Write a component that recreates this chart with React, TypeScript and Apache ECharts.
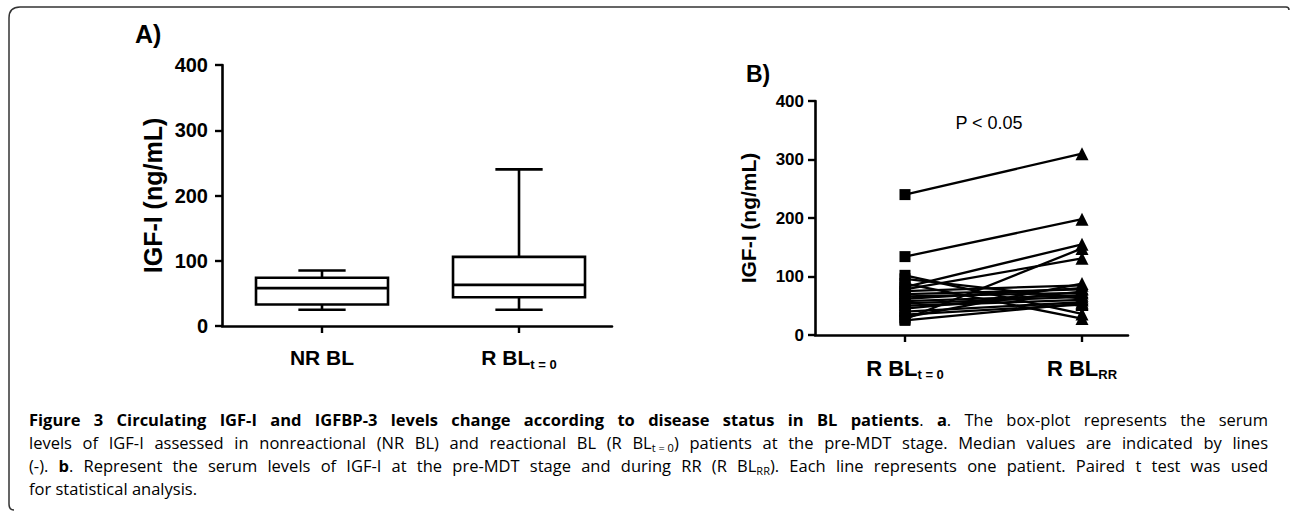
import React, { useEffect, useRef } from "react";
import * as echarts from "echarts";

// ---------- data ----------
const boxLabelMain = ["NR BL", "R BL"];
const boxLabelSub = ["", "t = 0"];
const boxMin = [25, 25];
const boxQ1 = [33, 44];
const boxMedian = [58, 63];
const boxQ3 = [74, 106];
const boxMax = [85, 240];

const pairLabelMain = ["R BL", "R BL"];
const pairLabelSub = ["t = 0", "RR"];
const pairBaseline = [240, 134, 102, 96, 88, 82, 78, 75, 70, 66, 62, 58, 54, 50, 45, 40, 35, 30, 27, 25];
const pairRR = [310, 198, 36, 62, 28, 155, 131, 85, 78, 72, 80, 68, 65, 60, 74, 56, 52, 88, 148, 54];

const yAxisTitle = "IGF-I (ng/mL)";
const panelA = "A)";
const panelB = "B)";
const pText = "P < 0.05";

// caption: *bold*, _subscript_ ; words separated by normal spaces
const captionLines = [
  "*Figure* *3* *Circulating* *IGF-I* *and* *IGFBP-3* *levels* *change* *according* *to* *disease* *status* *in* *BL* *patients*. *a*. The box-plot represents the serum",
  "levels of IGF-I assessed in nonreactional (NR BL) and reactional BL (R BL_t\u00a0=\u00a00_) patients at the pre-MDT stage. Median values are indicated by lines",
  "(-). *b*. Represent the serum levels of IGF-I at the pre-MDT stage and during RR (R BL_RR_). Each line represents one patient. Paired t test was used",
  "for statistical analysis.",
];

// ---------- style constants ----------
const FONT = "'Liberation Sans', Arial, sans-serif";
const CAP_FAMILY = "Open Sans";
const CAP_SIZE = 16.5;
const CAP_SUB = 11;
const CAP_LEFT = 29;
const CAP_RIGHT = 1268;
const CAP_CENTERS = [420, 443, 466, 489];

echarts.graphic.registerShape(
  "figFrame",
  echarts.graphic.extendPath(
    "M 14 510 Q 9 510 9 504 L 9 18 Q 9 7 20 7 L 1286 7 Q 1289 7 1289 10",
    {}
  )
);

type Part = { s: string; t: string };
function parseWord(w: string): Part[] {
  const parts: Part[] = [];
  const re = /\*([^*]+)\*|_([^_]+)_|([^*_]+)/g;
  let m: RegExpExecArray | null;
  while ((m = re.exec(w))) {
    if (m[1]) parts.push({ s: "b", t: m[1] });
    else if (m[2]) parts.push({ s: "s", t: m[2] });
    else parts.push({ s: "r", t: m[3] });
  }
  return parts;
}

function buildCaption() {
  const canvas = document.createElement("canvas");
  const ctx = canvas.getContext("2d")!;
  const meas = (t: string, s: string) => {
    const size = s === "s" ? CAP_SUB : CAP_SIZE;
    ctx.font = `${s === "b" ? "bold " : ""}${size}px "${CAP_FAMILY}"`;
    return ctx.measureText(t).width;
  };
  const base = { fontFamily: CAP_FAMILY, lineHeight: 19, verticalAlign: "top" as const, padding: [0, 0, 2, 0] };
  const rich: any = {
    r: { ...base, fontSize: CAP_SIZE, color: "#3d3d3d" },
    b: { ...base, fontSize: CAP_SIZE, fontWeight: "bold", color: "#1a1a1a" },
    s: { fontFamily: CAP_FAMILY, fontSize: CAP_SUB, lineHeight: 11, verticalAlign: "bottom", color: "#3d3d3d" },
  };
  const elements: any[] = [];
  captionLines.forEach((line, li) => {
    const words = line.split(" ").map(parseWord);
    const widths = words.map((ps) => ps.reduce((a, p) => a + meas(p.t, p.s), 0));
    const total = widths.reduce((a, b) => a + b, 0);
    const last = li === captionLines.length - 1;
    let gap = meas(" ", "r");
    if (!last && words.length > 1) gap = Math.max(2, (CAP_RIGHT - CAP_LEFT - total) / (words.length - 1));
    const gName = "g" + li;
    rich[gName] = { ...base, fontSize: CAP_SIZE, width: gap };
    const text = words
      .map((ps) => ps.map((p) => `{${p.s}|${p.t}}`).join(""))
      .join(`{${gName}| }`);
    elements.push({
      type: "text",
      x: CAP_LEFT,
      y: CAP_CENTERS[li] - 9.5,
      silent: true,
      style: { text, rich, fontFamily: CAP_FAMILY, fontSize: CAP_SIZE, align: "left", verticalAlign: "top" },
    });
  });
  return elements;
}

const axisLabelRich = (main: number, sub: number) => ({
  m: { fontSize: main, fontWeight: "bold", fontFamily: FONT, color: "#000", lineHeight: 24, verticalAlign: "top", padding: [0, 0, 2, 0] },
  s: { fontSize: sub, fontWeight: "bold", fontFamily: FONT, color: "#000", lineHeight: sub, verticalAlign: "bottom" },
});

const labelFormatter = (mains: string[], subs: string[]) => (v: number) => {
  const i = Math.round(v);
  if (i < 0 || i >= mains.length) return "";
  return `{m|${mains[i]}}` + (subs[i] ? `{s|${subs[i]}}` : "");
};

export default function App() {
  const ref = useRef<HTMLDivElement>(null);
  useEffect(() => {
    if (!ref.current) return;
    const chart = echarts.init(ref.current, null, { renderer: "svg" });

    const boxData = boxMin.map((_, i) => [i, boxMin[i], boxQ1[i], boxMedian[i], boxQ3[i], boxMax[i]]);
    const lineSeries = pairBaseline.map((b, i) => ({
      type: "line",
      xAxisIndex: 1,
      yAxisIndex: 1,
      silent: true,
      z: 3,
      lineStyle: { color: "#000", width: 2.3 },
      itemStyle: { color: "#000" },
      data: [
        { value: [0, b], symbol: "rect", symbolSize: 11 },
        { value: [1, pairRR[i]], symbol: "triangle", symbolSize: 13 },
      ],
    }));

    const axisLineStyle = { color: "#000", width: 2.6 };
    const option: any = {
      animation: false,
      backgroundColor: "#fff",
      grid: [
        { left: 222, top: 65, width: 390, height: 261, outerBoundsMode: "none", containLabel: false },
        { left: 815, top: 101, width: 313, height: 234, outerBoundsMode: "none", containLabel: false },
      ],
      xAxis: [
        {
          type: "value",
          gridIndex: 0,
          min: -0.5076,
          max: 1.472,
          splitLine: { show: false },
          axisLine: { show: true, onZero: false, lineStyle: axisLineStyle },
          axisTick: { show: true, customValues: [0, 1], length: 7, lineStyle: { color: "#000", width: 2.4 } },
          axisLabel: {
            customValues: [0, 1],
            margin: 21,
            formatter: labelFormatter(boxLabelMain, boxLabelSub),
            rich: axisLabelRich(21, 13),
          },
        },
        {
          type: "value",
          gridIndex: 1,
          min: -0.5085,
          max: 1.26,
          splitLine: { show: false },
          axisLine: { show: true, onZero: false, lineStyle: axisLineStyle },
          axisTick: { show: true, customValues: [0, 1], length: 7, lineStyle: { color: "#000", width: 2.4 } },
          axisLabel: {
            customValues: [0, 1],
            margin: 22,
            formatter: labelFormatter(pairLabelMain, pairLabelSub),
            rich: axisLabelRich(22, 13),
          },
        },
      ],
      yAxis: [
        {
          type: "value",
          gridIndex: 0,
          min: 0,
          max: 400,
          interval: 100,
          splitLine: { show: false },
          axisLine: { show: true, onZero: false, lineStyle: axisLineStyle },
          axisTick: { show: true, length: 7, lineStyle: { color: "#000", width: 2.4 } },
          axisLabel: { fontSize: 20, fontWeight: "bold", fontFamily: FONT, color: "#000", margin: 14 },
          name: yAxisTitle,
          nameLocation: "middle",
          nameGap: 57,
          nameTextStyle: { fontSize: 25, fontWeight: "bold", fontFamily: FONT, color: "#000" },
        },
        {
          type: "value",
          gridIndex: 1,
          min: 0,
          max: 400,
          interval: 100,
          splitLine: { show: false },
          axisLine: { show: true, onZero: false, lineStyle: axisLineStyle },
          axisTick: { show: true, length: 7, lineStyle: { color: "#000", width: 2.4 } },
          axisLabel: { fontSize: 17, fontWeight: "bold", fontFamily: FONT, color: "#000", margin: 11 },
          name: yAxisTitle,
          nameLocation: "middle",
          nameGap: 56,
          nameTextStyle: { fontSize: 21, fontWeight: "bold", fontFamily: FONT, color: "#000" },
        },
      ],
      series: [
        {
          type: "custom",
          xAxisIndex: 0,
          yAxisIndex: 0,
          silent: true,
          data: boxData,
          encode: { x: 0, y: [1, 2, 3, 4, 5] },
          renderItem: (params: any, api: any) => {
            const xv = api.value(0);
            const px = (v: number) => api.coord([xv, v]);
            const cx = px(api.value(3))[0];
            const yLo = px(api.value(1))[1];
            const yQ1 = px(api.value(2))[1];
            const yMed = px(api.value(3))[1];
            const yQ3 = px(api.value(4))[1];
            const yHi = px(api.value(5))[1];
            const half = api.size([0.67, 0])[0] / 2;
            const cap = api.size([0.24, 0])[0] / 2;
            const st = { stroke: "#000", lineWidth: 2.6, fill: null };
            return {
              type: "group",
              children: [
                { type: "line", shape: { x1: cx, y1: yQ3, x2: cx, y2: yHi }, style: st },
                { type: "line", shape: { x1: cx, y1: yQ1, x2: cx, y2: yLo }, style: st },
                { type: "line", shape: { x1: cx - cap, y1: yHi, x2: cx + cap, y2: yHi }, style: st },
                { type: "line", shape: { x1: cx - cap, y1: yLo, x2: cx + cap, y2: yLo }, style: st },
                { type: "rect", shape: { x: cx - half, y: yQ3, width: half * 2, height: yQ1 - yQ3 }, style: { ...st, fill: "#fff" } },
                { type: "line", shape: { x1: cx - half, y1: yMed, x2: cx + half, y2: yMed }, style: st },
              ],
            };
          },
        },
        ...lineSeries,
      ],
      graphic: [
        { type: "figFrame", x: 0, y: 0, silent: true, style: { stroke: "#333", lineWidth: 1.5, fill: null } },
        { type: "text", x: 135, y: 21, silent: true, style: { text: panelA, fontSize: 25, fontWeight: "bold", fontFamily: FONT, fill: "#000", verticalAlign: "top" } },
        { type: "text", x: 746, y: 62, silent: true, style: { text: panelB, fontSize: 23, fontWeight: "bold", fontFamily: FONT, fill: "#000", verticalAlign: "top" } },
        { type: "text", x: 989, y: 123, silent: true, style: { text: pText, fontSize: 18, fontFamily: FONT, fill: "#000", align: "center", verticalAlign: "middle" } },
        ...buildCaption(),
      ],
    };
    chart.setOption(option);
    return () => chart.dispose();
  }, []);
  return <div ref={ref} style={{ position: "fixed", left: 0, top: 0, width: 1290, height: 511 }} />;
}
